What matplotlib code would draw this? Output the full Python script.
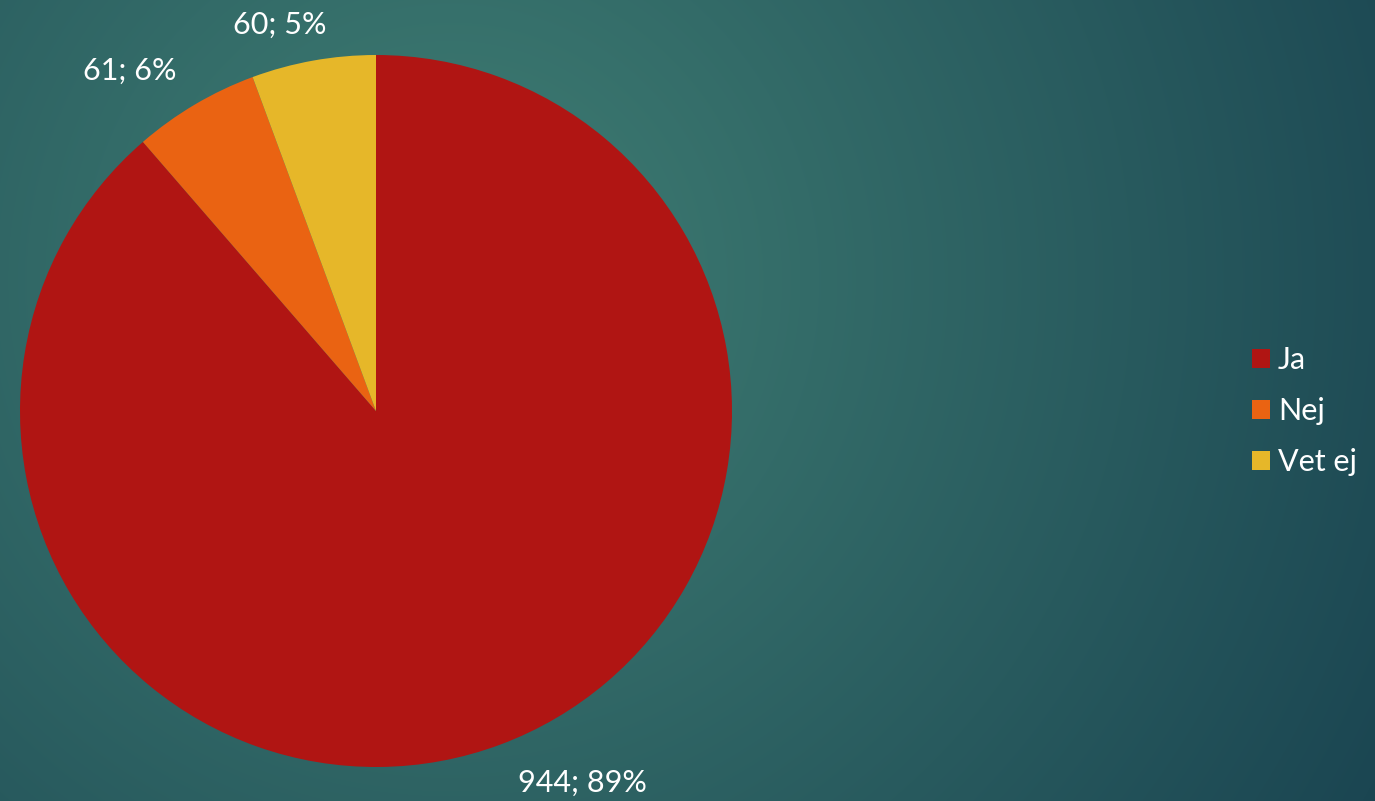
import numpy as np
import matplotlib
matplotlib.use("Agg")
import matplotlib.pyplot as plt

# data
categories = ["Ja", "Nej", "Vet ej"]
values = [944, 61, 60]
value_labels = ["944; 89%", "61; 6%", "60; 5%"]
colors = ["#B01513", "#EA6312", "#E6B729"]

plt.rcParams['font.family'] = ['Lato', 'DejaVu Sans']

fig = plt.figure(figsize=(13.75, 8.01), dpi=100)

# teal radial background
bg = fig.add_axes([0, 0, 1, 1])
bg.set_axis_off()
yy, xx = np.mgrid[0:801, 0:1375]
d = np.sqrt((xx - 450.0) ** 2 + (yy - 280.0) ** 2) / 1050.0
d = np.clip(d, 0, 1)
inner = np.array([0x40, 0x7f, 0x74]) / 255.0
outer = np.array([0x1b, 0x46, 0x52]) / 255.0
img = inner[None, None, :] * (1 - d[..., None]) + outer[None, None, :] * d[..., None]
bg.imshow(img, aspect='auto', extent=[0, 1, 0, 1], origin='upper')
bg.set_xlim(0, 1)
bg.set_ylim(0, 1)

# pie
ax = fig.add_axes([20 / 1375, 34 / 801, 712 / 1375, 712 / 801])
wedges, texts = ax.pie(values, labels=value_labels, colors=colors,
                       startangle=90, counterclock=False, radius=1,
                       labeldistance=1.15,
                       textprops=dict(color='white', fontsize=22))
label_pos = [(0.579, -1.045), (-0.691, 0.955), (-0.270, 1.084)]
for t, p in zip(texts, label_pos):
    t.set_position(p)
    t.set_ha('center')
    t.set_va('center')
ax.set_xlim(-1, 1)
ax.set_ylim(-1, 1)
ax.set_aspect('equal')

leg = fig.legend(wedges, categories, loc='center left',
                 bbox_to_anchor=(1252 / 1375, 390 / 801),
                 frameon=False, fontsize=22, labelcolor='white',
                 handlelength=0.59, handleheight=0.59, handletextpad=0.26,
                 labelspacing=0.75, borderpad=0, borderaxespad=0)

fig.savefig("out.png", dpi=100)
